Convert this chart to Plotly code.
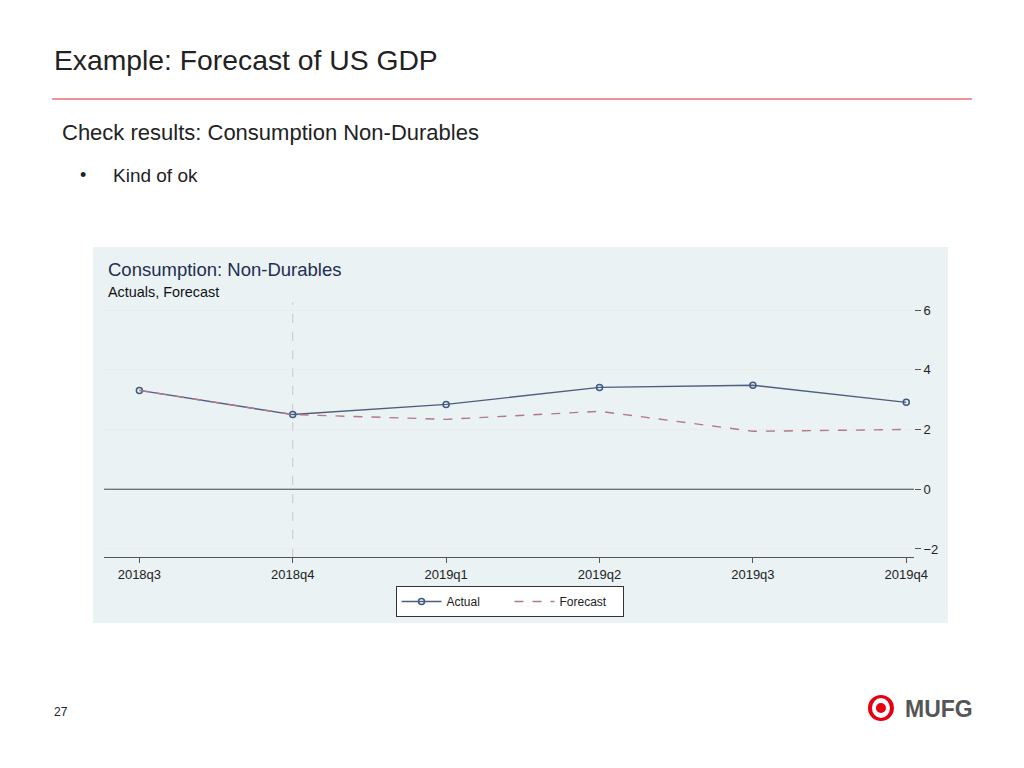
import plotly.graph_objects as go

quarters = ["2018q3", "2018q4", "2019q1", "2019q2", "2019q3", "2019q4"]
actual = [3.31, 2.50, 2.84, 3.41, 3.48, 2.91]
forecast = [3.31, 2.50, 2.34, 2.61, 1.94, 2.00]
y_ticks = [-2, 0, 2, 4, 6]

OFF = 8            # default page body margin
SX = 1024 / 1038   # horizontal squeeze observed in the photograph
W, H = 1024, 740
FONT = "Arial, Liberation Sans, sans-serif"

def px(x):
    return (x / SX - OFF) / W

def py(y):
    return 1 - (y - OFF) / H

xs = list(range(len(quarters)))

fig = go.Figure()
fig.add_trace(go.Scatter(
    x=xs, y=actual, name="Actual", mode="lines+markers",
    line=dict(color="#4f5d7e", width=1.4),
    marker=dict(symbol="circle-open", size=6, color="#3d5a80", line=dict(width=1.5)),
))
fig.add_trace(go.Scatter(
    x=xs, y=forecast, name="Forecast", mode="lines",
    line=dict(color="#b07a86", width=1.4, dash="dash"),
))

shapes = []
shapes.append(dict(type="rect", xref="paper", yref="paper",
                   x0=px(93), x1=px(948), y0=py(623), y1=py(247),
                   fillcolor="#eaf2f3", line=dict(width=0), layer="below"))
shapes.append(dict(type="line", xref="paper", yref="paper",
                   x0=px(52), x1=px(972), y0=py(99), y1=py(99),
                   line=dict(color="#e0292f", width=1.2)))
shapes.append(dict(type="line", xref="x domain", yref="y",
                   x0=0, x1=1, y0=0, y1=0, line=dict(color="#444444", width=1)))
shapes.append(dict(type="line", xref="x", yref="y domain",
                   x0=1, x1=1, y0=0, y1=1,
                   line=dict(color="#c8c8c8", width=1, dash="dash"), layer="below"))
cx, cy = 881, 708
shapes.append(dict(type="circle", xref="paper", yref="paper",
                   x0=px(cx - 13), x1=px(cx + 13), y0=py(cy + 13), y1=py(cy - 13),
                   fillcolor="#e60012", line=dict(width=0)))
shapes.append(dict(type="circle", xref="paper", yref="paper",
                   x0=px(cx - 9), x1=px(cx + 9), y0=py(cy + 10), y1=py(cy - 10),
                   fillcolor="white", line=dict(width=0)))
shapes.append(dict(type="circle", xref="paper", yref="paper",
                   x0=px(cx - 5), x1=px(cx + 5), y0=py(cy + 5), y1=py(cy - 5),
                   fillcolor="#e60012", line=dict(width=0)))

annotations = [
    dict(text="Example: Forecast of US GDP", x=px(52), y=py(60), xanchor="left", yanchor="middle",
         font=dict(family=FONT, size=28.3, color="#222222")),
    dict(text="Check results: Consumption Non-Durables", x=px(60), y=py(133), xanchor="left", yanchor="middle",
         font=dict(family=FONT, size=22, color="#222222")),
    dict(text="•", x=px(78), y=py(175), xanchor="left", yanchor="middle",
         font=dict(family=FONT, size=18, color="#222222")),
    dict(text="Kind of ok", x=px(111), y=py(175), xanchor="left", yanchor="middle",
         font=dict(family=FONT, size=19, color="#222222")),
    dict(text="27", x=px(52), y=py(712), xanchor="left", yanchor="middle",
         font=dict(family=FONT, size=12, color="#222222")),
    dict(text="<b>MUFG</b>", x=px(903), y=py(709), xanchor="left", yanchor="middle",
         font=dict(family=FONT, size=23, color="#555555")),
    dict(text="Consumption: Non-Durables", x=px(106), y=py(270), xanchor="left", yanchor="middle",
         font=dict(family=FONT, size=18.5, color="#1f2d52")),
    dict(text="Actuals, Forecast", x=px(106), y=py(292), xanchor="left", yanchor="middle",
         font=dict(family=FONT, size=14.4, color="#111111")),
]
for a in annotations:
    a.update(xref="paper", yref="paper", showarrow=False)

fig.update_layout(
    width=W, height=H,
    margin=dict(l=0, r=0, t=0, b=0),
    paper_bgcolor="white", plot_bgcolor="white",
    showlegend=True,
    legend=dict(orientation="h", x=0.5 * (px(397) + px(622)), y=py(586), xanchor="center", yanchor="top",
                bgcolor="white", bordercolor="#333333", borderwidth=1,
                font=dict(family=FONT, size=12, color="#222222"),
                itemwidth=40, entrywidth=58, tracegroupgap=0),
    xaxis=dict(domain=[px(104), px(914)], range=[-0.23, 5.05],
               tickmode="array", tickvals=xs, ticktext=quarters,
               showgrid=False, zeroline=False, showline=True, linecolor="#555555", linewidth=1,
               ticks="outside", ticklen=5, tickcolor="#555555",
               tickfont=dict(family=FONT, size=13, color="#222222")),
    yaxis=dict(domain=[py(557), py(302)], range=[-2.27, 6.27], side="right",
               tickmode="array", tickvals=y_ticks,
               showgrid=True, gridcolor="#ececec", zeroline=False, showline=False,
               ticks="outside", ticklen=6, tickcolor="#555555",
               tickfont=dict(family=FONT, size=13, color="#222222")),
    shapes=shapes, annotations=annotations,
)

fig.write_html("out.html")
